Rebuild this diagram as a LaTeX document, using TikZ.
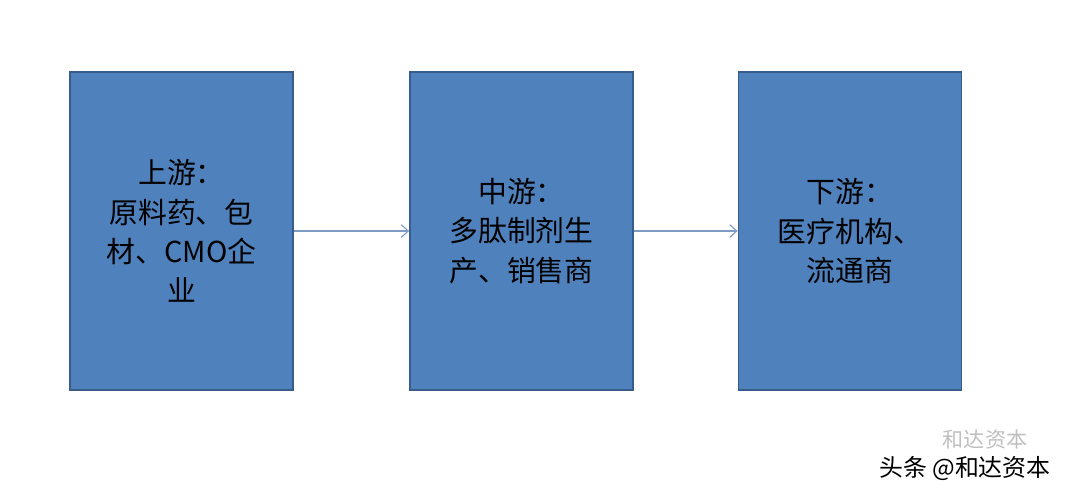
\documentclass[tikz,border=0pt]{standalone}
\usepackage{fontspec}
\newfontfamily\cjk{Noto Sans CJK SC}
\usetikzlibrary{positioning}
\usetikzlibrary{arrows.meta}
\definecolor{stageblue}{HTML}{4F81BD}
\definecolor{stageedge}{HTML}{385D8A}
\definecolor{linkgray}{HTML}{7F9CC4}
\begin{document}
\begin{tikzpicture}[
  x=0.025cm, y=-0.025cm,
  font=\cjk\fontsize{20.5}{28}\selectfont,
  stage/.style={draw=stageedge, line width=1.2pt, fill=stageblue, align=center, minimum width=5.575cm, minimum height=7.95cm, inner sep=0pt},
  link/.style={-{Straight Barb[length=5pt,width=9pt]}, draw=linkgray, line width=0.8pt}
]
\useasboundingbox (0,0) rectangle (1080,496);

\node[stage] (up)   at (181.5,231) {上游：\\原料药、包\\材、CMO企\\业};
\node[stage] (mid)  at (521.5,231) {中游：\\多肽制剂生\\产、销售商};
\node[stage] (down) at (850,231)   {下游：\\医疗机构、\\流通商};

\draw[link] (up) -- (mid);
\draw[link] (mid) -- (down);

\node[black!25, font=\cjk\fontsize{15}{17}\selectfont] (mark) at (985,440) {和达资本};
\node[font=\cjk\fontsize{17}{20}\selectfont] (credit) at (965,468) {头条 @和达资本};
\end{tikzpicture}
\end{document}
